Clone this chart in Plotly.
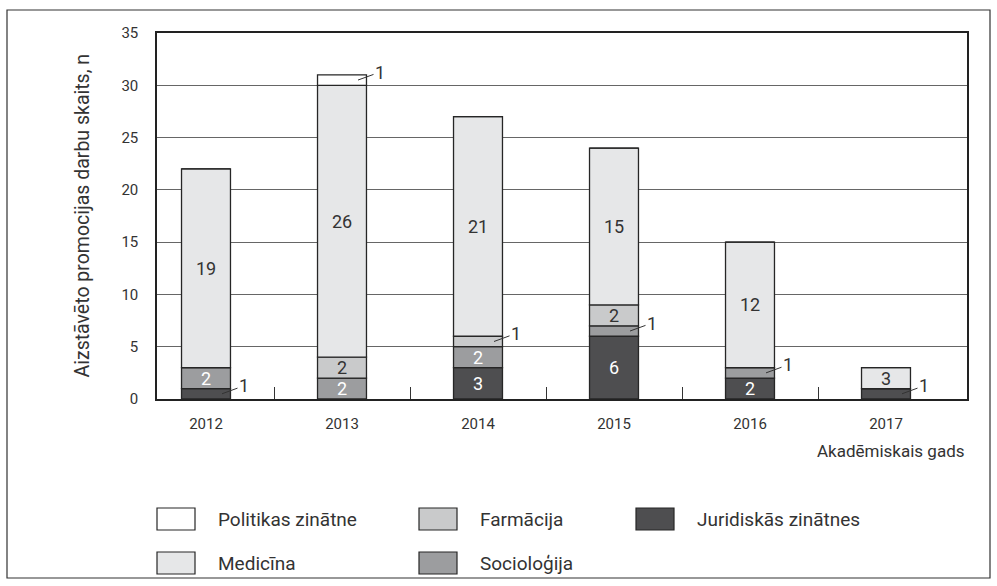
import plotly.graph_objects as go
import numpy as np

# ---- data ----
years = ["2012", "2013", "2014", "2015", "2016", "2017"]
juridiskas = [1, 0, 3, 6, 2, 1]
sociologija = [2, 2, 2, 1, 1, 0]
farmacija = [0, 2, 1, 2, 0, 0]
medicina = [19, 26, 21, 15, 12, 2]
medicina_labels = ["19", "26", "21", "15", "12", "3"]
politikas = [0, 1, 0, 0, 0, 0]

y_ticks = [0, 5, 10, 15, 20, 25, 30, 35]

# ---- layout geometry ----
W, H = 997, 586
L, R, T, B = 157, 967, 33, 399
FONT = "Roboto, Liberation Sans, Arial, sans-serif"
TXT = "#333333"
EDGE = "#262626"

def px_x(p):
    return (p - L) / (R - L)

def px_y(p):
    return (B - p) / (B - T)

series = [
    ("Juridiskās zinātnes", juridiskas, "#4e4e50", "white", None),
    ("Socioloģija", sociologija, "#9c9d9f", "white", None),
    ("Farmācija", farmacija, "#c9cacb", TXT, None),
    ("Medicīna", medicina, "#e6e7e8", TXT, medicina_labels),
    ("Politikas zinātne", politikas, "#ffffff", TXT, None),
]

fig = go.Figure()
base = np.zeros(len(years))
leaders = []
for name, vals, color, tcolor, labels in series:
    vals = np.array(vals, dtype=float)
    if labels is None:
        texts = [str(int(v)) if v >= 2 else "" for v in vals]
    else:
        texts = labels
    for i, v in enumerate(vals):
        if v == 1:
            leaders.append((i, float(base[i] + 0.5)))
    fig.add_trace(go.Bar(
        x=years, y=vals, base=base.copy(), name=name,
        marker=dict(color=color, line=dict(color=EDGE, width=1.3)),
        text=texts, textposition="inside", insidetextanchor="middle", textangle=0,
        textfont=dict(color=tcolor, size=18, family=FONT),
        width=0.36, showlegend=False, hoverinfo="skip",
    ))
    base = base + vals

# invisible trace for the boundary-tick axis
fig.add_trace(go.Scatter(x=[0.5], y=[0], xaxis="x2", mode="markers",
                         marker=dict(opacity=0), showlegend=False, hoverinfo="skip"))

xr = [-(206 - L) / 136.0, 5 + (R - 886) / 136.0]

annotations = []
for xi, ym in leaders:
    annotations.append(dict(
        x=xi, y=ym, xref="x", yref="y", xshift=16,
        text="1", showarrow=True, arrowhead=0, arrowwidth=1, arrowcolor="#333",
        ax=22, ay=-8, font=dict(size=18, color=TXT, family=FONT),
    ))

annotations.append(dict(
    x=px_x(68), y=0.5, xref="paper", yref="paper", textangle=-90,
    text="Aizstāvēto promocijas darbu skaits, n", showarrow=False,
    font=dict(size=19.5, color=TXT, family=FONT),
))
annotations.append(dict(
    x=1.0, y=px_y(451), xref="paper", yref="paper", xanchor="right", yanchor="middle",
    text="Akadēmiskais gads", showarrow=False,
    font=dict(size=17, color=TXT, family=FONT),
))

shapes = [dict(type="rect", xref="paper", yref="paper",
               x0=px_x(7), x1=px_x(990), y0=px_y(10), y1=px_y(578),
               line=dict(color="#333", width=1.2), layer="below")]

legend_items = [
    ("Politikas zinātne", "#ffffff", 157, 519),
    ("Medicīna", "#e6e7e8", 157, 563),
    ("Farmācija", "#c9cacb", 419, 519),
    ("Socioloģija", "#9c9d9f", 419, 563),
    ("Juridiskās zinātnes", "#4e4e50", 636, 519),
]
for name, color, lx, ly in legend_items:
    shapes.append(dict(type="rect", xref="paper", yref="paper",
                       x0=px_x(lx), x1=px_x(lx + 38), y0=px_y(ly + 11), y1=px_y(ly - 11),
                       fillcolor=color, line=dict(color=EDGE, width=1.2)))
    annotations.append(dict(x=px_x(lx + 59), y=px_y(ly), xref="paper", yref="paper",
                            xanchor="left", yanchor="middle", text=name, showarrow=False,
                            font=dict(size=19, color=TXT, family=FONT)))

fig.update_layout(
    width=W, height=H,
    margin=dict(l=L, r=W - R, t=T, b=H - B, pad=0),
    paper_bgcolor="white", plot_bgcolor="white",
    barmode="overlay",
    uniformtext=dict(minsize=18, mode="show"),
    font=dict(family=FONT, color=TXT),
    xaxis=dict(type="category", range=xr, showgrid=False, ticks="",
               showline=True, linecolor="#222", linewidth=1.5, mirror=True,
               tickfont=dict(size=15, color=TXT, family=FONT), ticklabelstandoff=10),
    xaxis2=dict(overlaying="x", anchor="y", range=xr, showgrid=False, showline=False,
                zeroline=False, tickvals=[0.5, 1.5, 2.5, 3.5, 4.5], ticks="inside",
                ticklen=12, tickwidth=1, tickcolor="#333", showticklabels=False, side="bottom"),
    yaxis=dict(range=[0, 35], tickvals=y_ticks, showgrid=True, gridcolor="#666", gridwidth=1,
               showline=True, linecolor="#222", linewidth=1.5, mirror=True, zeroline=False,
               ticks="", tickfont=dict(size=15, color=TXT, family=FONT), ticklabelstandoff=14),
    annotations=annotations,
    shapes=shapes,
)

fig.write_html("out.html", config={"displayModeBar": False},
               post_script="document.body.style.margin='0';")
